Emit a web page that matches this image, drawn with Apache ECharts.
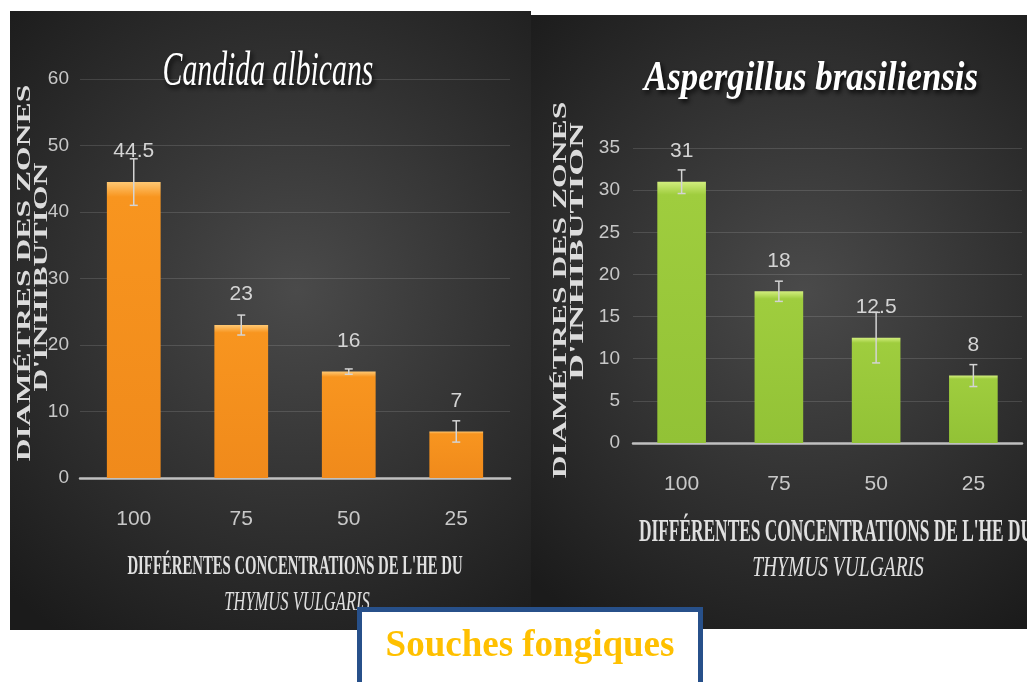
<!DOCTYPE html>
<html>
<head>
<meta charset="utf-8">
<script src="https://cdn.jsdelivr.net/npm/echarts@6/dist/echarts.min.js"></script>
<style>
  html, body { margin: 0; padding: 0; background: #fff; }
  #main { width: 1027px; height: 682px; }
</style>
</head>
<body>
<div id="main"></div>
<script>
// concentrations de l'HE (%)
var concentrations = ['100', '75', '50', '25'];

// Candida albicans : diamètres (mm) et écarts
var candidaValues = [44.5, 23, 16, 7];
var candidaErrors = [3.5, 1.5, 0.4, 1.6];

// Aspergillus brasiliensis
var aspergillusValues = [31, 18, 12.5, 8];
var aspergillusErrors = [1.4, 1.2, 3, 1.3];

var narrow = "'Liberation Sans', Arial, sans-serif";
var serif = "'Liberation Serif', 'DejaVu Serif', serif";

function errData(values, errors) {
    return values.map(function (v, i) { return [i, v, errors[i]]; });
}

function errorItem(params, api) {
    var i = api.value(0), v = api.value(1), e = api.value(2);
    var hi = api.coord([i, v + e]), lo = api.coord([i, v - e]);
    var w = 4, st = { stroke: '#d4d4d4', lineWidth: 1.5 };
    return {
        type: 'group',
        children: [
            { type: 'line', shape: { x1: hi[0], y1: hi[1], x2: lo[0], y2: lo[1] }, style: st },
            { type: 'line', shape: { x1: hi[0] - w, y1: hi[1], x2: hi[0] + w, y2: hi[1] }, style: st },
            { type: 'line', shape: { x1: lo[0] - w, y1: lo[1], x2: lo[0] + w, y2: lo[1] }, style: st }
        ]
    };
}

function barGrad(light, main, dark) {
    return new echarts.graphic.LinearGradient(0, 0, 0, 1, [
        { offset: 0, color: light },
        { offset: 0.05, color: main },
        { offset: 1, color: dark }
    ]);
}

function panelBg(x, y, w, h) {
    return {
        type: 'rect', z: -10,
        shape: { x: x, y: y, width: w, height: h },
        style: {
            fill: new echarts.graphic.RadialGradient(0.55, 0.45, 0.8, [
                { offset: 0, color: '#4a4a4a' },
                { offset: 1, color: '#1b1b1b' }
            ])
        }
    };
}

function yTitle(text, x, y, size, sx) {
    return {
        type: 'text', z: 5, x: x, y: y, rotation: Math.PI / 2, scaleX: sx,
        style: {
            text: text, fill: '#dcdcdc', font: 'bold ' + size + 'px ' + serif,
            textAlign: 'center', textVerticalAlign: 'middle'
        }
    };
}

function plainText(text, x, y, font, sx, fill, extra) {
    var st = { text: text, fill: fill, font: font, textAlign: 'center', textVerticalAlign: 'middle' };
    if (extra) { for (var k in extra) st[k] = extra[k]; }
    return { type: 'text', z: 5, x: x, y: y, scaleX: sx, style: st };
}

var chart = echarts.init(document.getElementById('main'));

var axisLabelStyle = { color: '#c8c8c8', fontFamily: narrow, fontSize: 21 };
var yLabelStyle = { color: '#c8c8c8', fontFamily: narrow, fontSize: 19 };
var valueLabel = { show: true, position: 'top', distance: 20, color: '#d4d4d4', fontFamily: narrow, fontSize: 21 };
var shadow = { textShadowColor: 'rgba(0,0,0,0.9)', textShadowBlur: 5, textShadowOffsetX: 2, textShadowOffsetY: 3 };

chart.setOption({
    animation: false,
    grid: [
        { left: 80, right: 517, top: 79, bottom: 204 },
        { left: 633, right: 5, top: 148, bottom: 239 }
    ],
    xAxis: [
        {
            gridIndex: 0, type: 'category', data: concentrations,
            axisLine: { lineStyle: { color: '#c0c0c0', width: 2.5 } },
            axisTick: { show: false },
            axisLabel: Object.assign({ margin: 31 }, axisLabelStyle)
        },
        {
            gridIndex: 1, type: 'category', data: concentrations,
            axisLine: { lineStyle: { color: '#c0c0c0', width: 2.5 } },
            axisTick: { show: false },
            axisLabel: Object.assign({ margin: 31 }, axisLabelStyle)
        }
    ],
    yAxis: [
        {
            gridIndex: 0, type: 'value', min: 0, max: 60, interval: 10,
            axisLine: { show: false }, axisTick: { show: false },
            axisLabel: Object.assign({ margin: 11 }, yLabelStyle),
            splitLine: { lineStyle: { color: 'rgba(255,255,255,0.13)', width: 1 } }
        },
        {
            gridIndex: 1, type: 'value', min: 0, max: 35, interval: 5,
            axisLine: { show: false }, axisTick: { show: false },
            axisLabel: Object.assign({ margin: 13 }, yLabelStyle),
            splitLine: { lineStyle: { color: 'rgba(255,255,255,0.13)', width: 1 } }
        }
    ],
    series: [
        {
            type: 'bar', xAxisIndex: 0, yAxisIndex: 0, barWidth: '50%',
            data: candidaValues,
            itemStyle: { color: barGrad('#ffc873', '#f8951f', '#f08a1b') },
            label: valueLabel
        },
        {
            type: 'custom', xAxisIndex: 0, yAxisIndex: 0, z: 4,
            renderItem: errorItem, encode: { x: 0, y: 1 },
            data: errData(candidaValues, candidaErrors)
        },
        {
            type: 'bar', xAxisIndex: 1, yAxisIndex: 1, barWidth: '50%',
            data: aspergillusValues,
            itemStyle: { color: barGrad('#d2ee7e', '#9fcd3e', '#92c236') },
            label: valueLabel
        },
        {
            type: 'custom', xAxisIndex: 1, yAxisIndex: 1, z: 4,
            renderItem: errorItem, encode: { x: 0, y: 1 },
            data: errData(aspergillusValues, aspergillusErrors)
        }
    ],
    graphic: [
        panelBg(10, 11, 521, 619),
        panelBg(531, 15, 496, 614),
        plainText('Candida albicans', 268, 72, 'italic 48px ' + serif, 0.62, '#ffffff', shadow),
        plainText('Aspergillus brasiliensis', 811, 79, 'italic bold 42px ' + serif, 0.83, '#ffffff', shadow),
        yTitle('DIAMÉTRES DES ZONES', 25, 273, 18, 1.76),
        yTitle("D'INHIBUTION", 42, 277, 18, 1.76),
        yTitle('DIAMÉTRES DES ZONES', 561, 290, 18, 1.76),
        yTitle("D'INHIBUTION", 578, 251, 18, 1.98),
        plainText("DIFFÉRENTES CONCENTRATIONS DE L'HE DU", 295, 567, 'bold 28px ' + serif, 0.527, '#e0e0e0'),
        plainText('THYMUS VULGARIS', 297, 603, 'italic 28px ' + serif, 0.59, '#e0e0e0'),
        plainText("DIFFÉRENTES CONCENTRATIONS DE L'HE DU", 836, 533, 'bold 31px ' + serif, 0.56, '#e0e0e0'),
        plainText('THYMUS VULGARIS', 838, 568, 'italic 30px ' + serif, 0.65, '#e0e0e0'),
        {
            type: 'rect', z: 100,
            shape: { x: 359.5, y: 609.5, width: 341, height: 80 },
            style: { fill: '#ffffff', stroke: '#27508a', lineWidth: 5 }
        },
        {
            type: 'text', z: 101, x: 530, y: 646,
            style: {
                text: 'Souches fongiques', fill: '#ffc000', font: 'bold 37px ' + serif,
                textAlign: 'center', textVerticalAlign: 'middle'
            }
        }
    ]
});
</script>
</body>
</html>
